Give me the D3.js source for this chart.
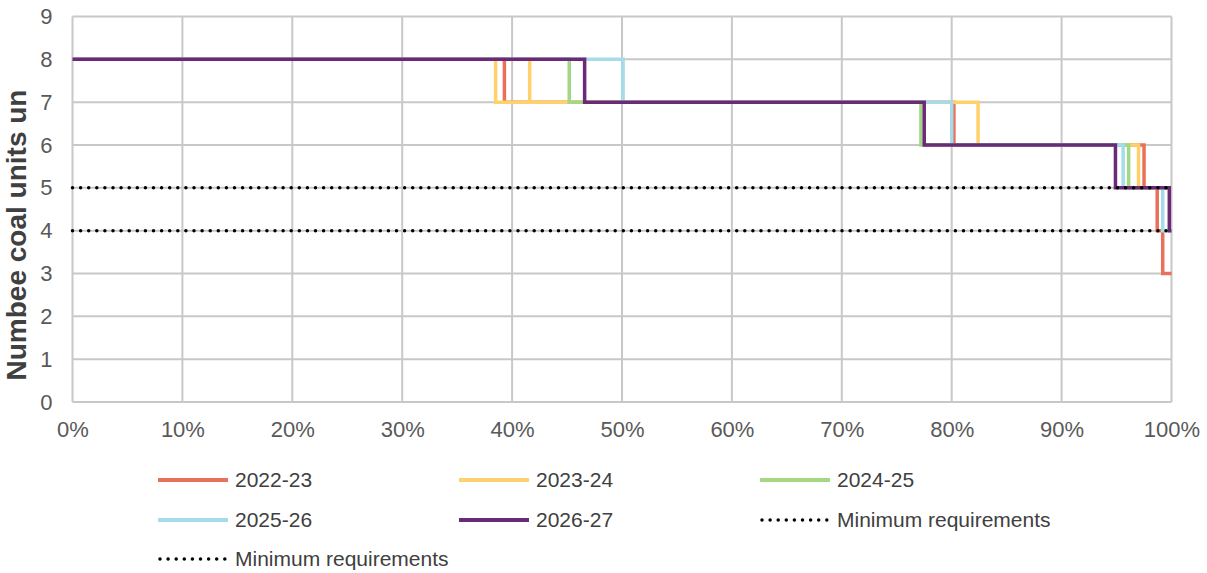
<!DOCTYPE html>
<html>
<head>
<meta charset="utf-8">
<script src="https://cdn.jsdelivr.net/npm/d3@7"></script>
<style>
  body { margin: 0; background: #fff; }
  svg { display: block; font-family: Arial, "Liberation Sans", sans-serif; }
</style>
</head>
<body>
<svg id="chart" width="1207" height="573"></svg>
<script>
// ---- data (percent of time, number of units online; step-after breakpoints) ----
const seriesNames = ["2022-23", "2023-24", "2024-25", "2025-26", "2026-27"];
const s2022_23 = [[0, 8], [39.3, 7], [80.2, 6], [97.5, 5], [98.7, 4], [99.2, 3], [100, 3]];
const s2023_24 = [[0, 8], [38.5, 7], [41.6, 8], [41.6, 7], [82.4, 6], [97.0, 5], [100, 5]];
const s2024_25 = [[0, 8], [45.2, 7], [77.2, 6], [96.1, 5], [100, 5]];
const s2025_26 = [[0, 8], [50.1, 7], [80.0, 6], [95.6, 5], [99.2, 4], [100, 4]];
const s2026_27 = [[0, 8], [46.6, 7], [77.5, 6], [94.9, 5], [99.8, 4], [100, 4]];
const minReqName = "Minimum requirements";
const minReqA = [[0, 5], [100, 5]];
const minReqB = [[0, 4], [100, 4]];
const xTicks = [0, 10, 20, 30, 40, 50, 60, 70, 80, 90, 100];
const yTicks = [0, 1, 2, 3, 4, 5, 6, 7, 8, 9];
const yTitle = "Numbee coal units un";

const colors = ["#E9705B", "#FFD16B", "#A2D884", "#A5DCE9", "#6A2A78"];
const seriesData = [s2022_23, s2023_24, s2024_25, s2025_26, s2026_27];

const svg = d3.select("#chart");
const L = 72.5, R = 1171.5, T = 16.5, B = 402;
const x = d3.scaleLinear().domain([0, 100]).range([L, R]);
const y = d3.scaleLinear().domain([0, 9]).range([B, T]);

const textColor = "#404040";
const tickColor = "#595959";
const gridColor = "#C8C8C8";

// gridlines
const g = svg.append("g");
g.selectAll("line.v").data(xTicks).join("line")
  .attr("x1", d => x(d)).attr("x2", d => x(d))
  .attr("y1", T).attr("y2", B)
  .attr("stroke", gridColor).attr("stroke-width", 2);
g.selectAll("line.h").data(yTicks).join("line")
  .attr("x1", L).attr("x2", R)
  .attr("y1", d => y(d)).attr("y2", d => y(d))
  .attr("stroke", gridColor).attr("stroke-width", 2);

// axes labels via d3 axes
const xAxis = svg.append("g").attr("transform", `translate(0,${B})`)
  .call(d3.axisBottom(x).tickValues(xTicks).tickFormat(d => d + "%").tickSize(0).tickPadding(0));
xAxis.select(".domain").remove();
xAxis.selectAll("text").attr("y", 27.5).attr("dy", "0.35em")
  .attr("font-size", 22).attr("fill", tickColor).attr("font-family", "Arial, 'Liberation Sans', sans-serif");

const yAxis = svg.append("g").attr("transform", `translate(${L},0)`)
  .call(d3.axisLeft(y).tickValues(yTicks).tickFormat(d3.format("d")).tickSize(0).tickPadding(20));
yAxis.select(".domain").remove();
yAxis.selectAll("text").attr("font-size", 22).attr("fill", tickColor).attr("font-family", "Arial, 'Liberation Sans', sans-serif");

// y title
svg.append("text")
  .attr("transform", `translate(26,235) rotate(-90)`)
  .attr("text-anchor", "middle")
  .attr("font-size", 28).attr("font-weight", "bold").attr("fill", textColor)
  .text(yTitle);

// series lines
const line = d3.line().x(d => x(d[0])).y(d => y(d[1])).curve(d3.curveStepAfter);
seriesData.forEach((s, i) => {
  svg.append("path").datum(s)
    .attr("d", line).attr("fill", "none")
    .attr("stroke", colors[i]).attr("stroke-width", 3.5)
    .attr("stroke-linejoin", "miter");
});

// minimum requirement dotted lines
const lineLin = d3.line().x(d => x(d[0])).y(d => y(d[1]));
[minReqA, minReqB].forEach(s => {
  svg.append("path").datum(s)
    .attr("d", lineLin).attr("fill", "none")
    .attr("stroke", "#000").attr("stroke-width", 3.5)
    .attr("stroke-linecap", "round").attr("stroke-dasharray", "0 8.1");
});

// legend
const legendItems = [
  { name: seriesNames[0], color: colors[0], dotted: false },
  { name: seriesNames[1], color: colors[1], dotted: false },
  { name: seriesNames[2], color: colors[2], dotted: false },
  { name: seriesNames[3], color: colors[3], dotted: false },
  { name: seriesNames[4], color: colors[4], dotted: false },
  { name: minReqName, color: "#000", dotted: true },
  { name: minReqName, color: "#000", dotted: true }
];
const colX = [158, 459, 760];
const rowY = [480, 520, 559];
const lg = svg.append("g");
legendItems.forEach((it, i) => {
  const cx = colX[i % 3], cy = rowY[Math.floor(i / 3)];
  const ln = lg.append("line")
    .attr("x1", cx + (it.dotted ? 2 : 0)).attr("x2", cx + 70)
    .attr("y1", cy).attr("y2", cy)
    .attr("stroke", it.color).attr("stroke-width", it.dotted ? 3.5 : 4);
  if (it.dotted) ln.attr("stroke-linecap", "round").attr("stroke-dasharray", "0 8.1");
  lg.append("text").attr("x", cx + 77).attr("y", cy).attr("dy", "0.35em")
    .attr("font-size", 21).attr("fill", textColor).text(it.name);
});
</script>
</body>
</html>
